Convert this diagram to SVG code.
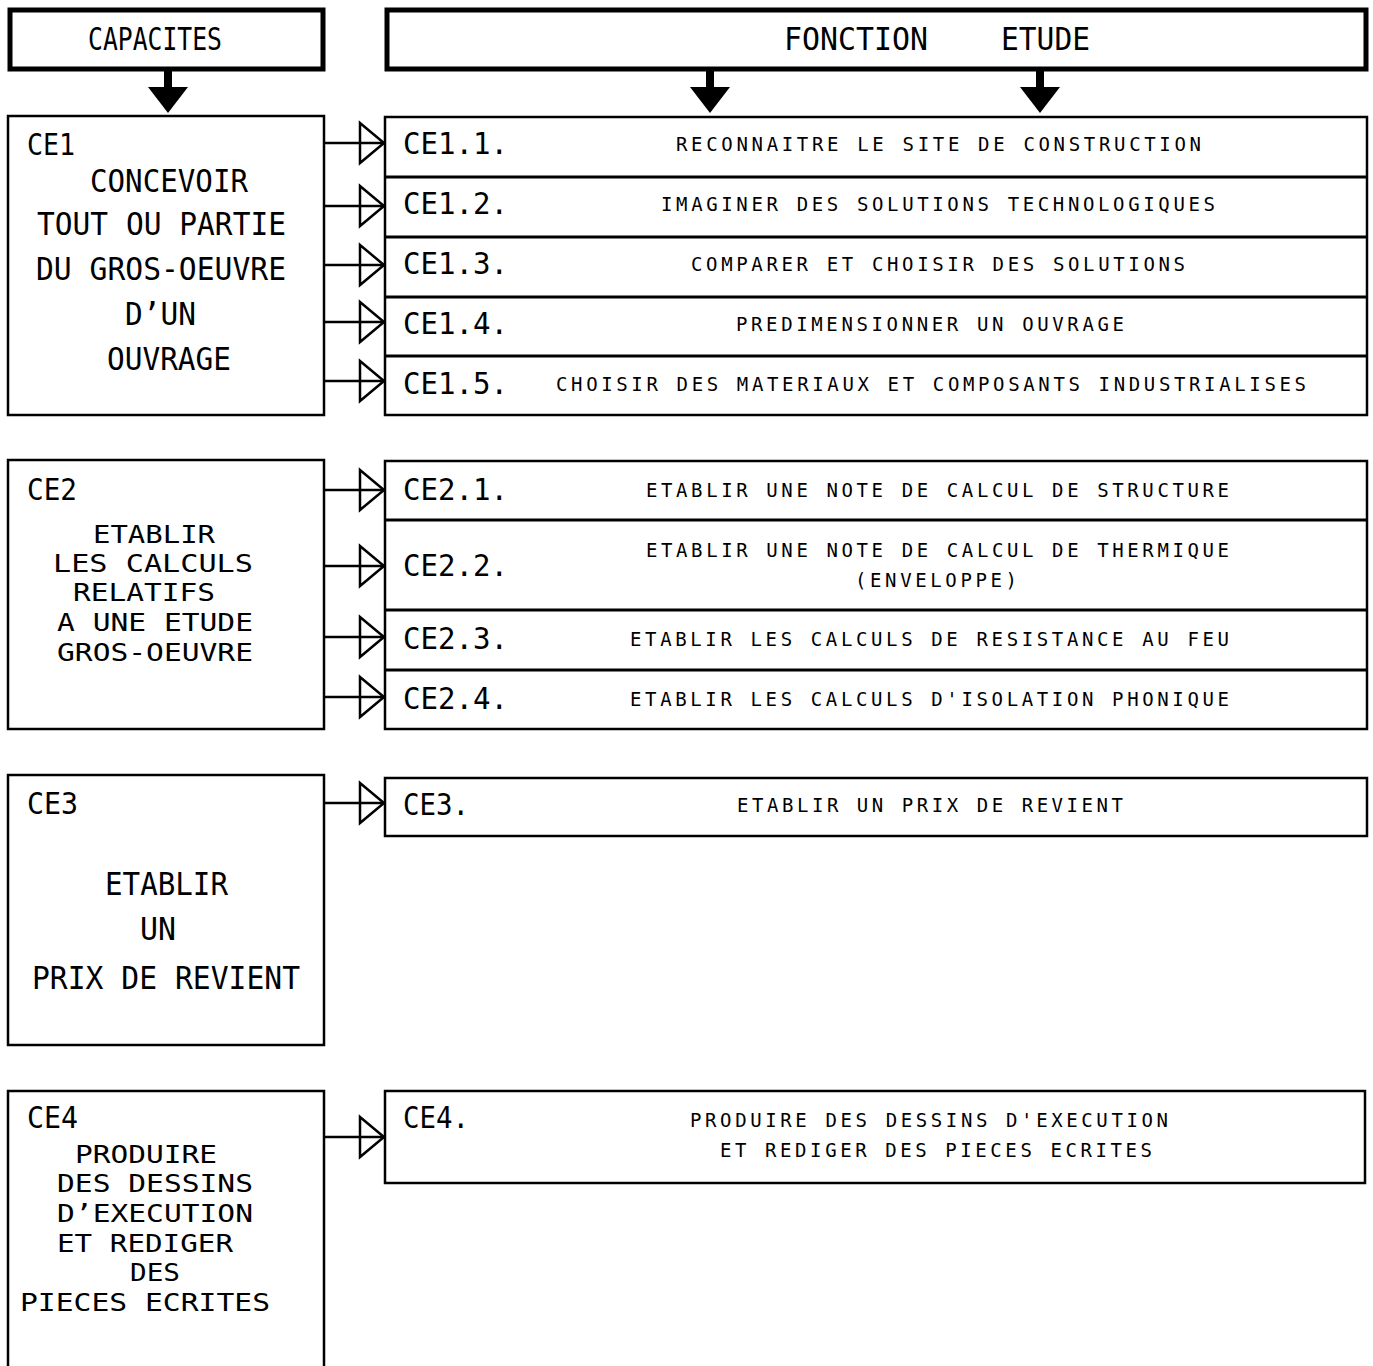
<svg xmlns="http://www.w3.org/2000/svg" width="1373" height="1366" viewBox="0 0 1373 1366">
<style>
.bg{fill:#fff}
.hdr{fill:none;stroke:#000;stroke-width:5}
.box{fill:none;stroke:#000;stroke-width:2.5}
.sep{stroke:#000;stroke-width:3}
.t{font-family:"DejaVu Sans Mono","Liberation Mono",monospace;fill:#000}
.big{font-size:32px}
.tight{font-size:25px}
.id{font-size:30px}
.sm{font-size:19px}
</style>
<defs>
<g id="blockArrow"><rect x="-4" y="0" width="8" height="20" fill="#000"/><polygon points="-20,16 20,16 0,42" fill="#000"/></g>
<g id="openArrow"><line x1="0" y1="0" x2="59" y2="0" stroke="#000" stroke-width="2.5"/><polygon points="35,-20 59,0 35,20" fill="none" stroke="#000" stroke-width="2.5"/></g>
</defs>
<rect class="bg" x="0" y="0" width="1373" height="1366"/>

<g id="capacites">
<rect class="hdr" x="10" y="10" width="313" height="59"/>
<text class="t" x="88" y="50" font-size="32" textLength="134" lengthAdjust="spacingAndGlyphs">CAPACITES</text>
</g>
<g id="fonction-etude">
<rect class="hdr" x="387" y="10" width="979" height="59"/>
<text class="t" x="784" y="50" font-size="32" textLength="144" lengthAdjust="spacingAndGlyphs">FONCTION</text>
<text class="t" x="1001" y="50" font-size="32" textLength="89" lengthAdjust="spacingAndGlyphs">ETUDE</text>
</g>

<g id="ce1">
<rect class="box" x="8" y="116" width="316" height="299"/>
<text class="t id" x="27" y="155" textLength="48" lengthAdjust="spacingAndGlyphs">CE1</text>
<text class="t big" x="90" y="192" textLength="158" lengthAdjust="spacingAndGlyphs">CONCEVOIR</text>
<text class="t big" x="37" y="235" textLength="249" lengthAdjust="spacingAndGlyphs">TOUT OU PARTIE</text>
<text class="t big" x="36" y="280" textLength="250" lengthAdjust="spacingAndGlyphs">DU GROS-OEUVRE</text>
<text class="t big" x="125" y="325" textLength="71" lengthAdjust="spacingAndGlyphs">D’UN</text>
<text class="t big" x="107" y="370" textLength="124" lengthAdjust="spacingAndGlyphs">OUVRAGE</text>
</g>
<g id="ce1-rows">
<rect class="box" x="385" y="117" width="982" height="298"/>
<line class="sep" x1="385" y1="177" x2="1367" y2="177"/>
<line class="sep" x1="385" y1="237" x2="1367" y2="237"/>
<line class="sep" x1="385" y1="297" x2="1367" y2="297"/>
<line class="sep" x1="385" y1="356" x2="1367" y2="356"/>
<text class="t id" x="403" y="154" textLength="105" lengthAdjust="spacingAndGlyphs">CE1.1.</text>
<text class="t id" x="403" y="214" textLength="105" lengthAdjust="spacingAndGlyphs">CE1.2.</text>
<text class="t id" x="403" y="274" textLength="105" lengthAdjust="spacingAndGlyphs">CE1.3.</text>
<text class="t id" x="403" y="334" textLength="105" lengthAdjust="spacingAndGlyphs">CE1.4.</text>
<text class="t id" x="403" y="394" textLength="105" lengthAdjust="spacingAndGlyphs">CE1.5.</text>
<text class="t sm" x="676" y="151" textLength="525" lengthAdjust="spacing">RECONNAITRE LE SITE DE CONSTRUCTION</text>
<text class="t sm" x="661" y="211" textLength="554" lengthAdjust="spacing">IMAGINER DES SOLUTIONS TECHNOLOGIQUES</text>
<text class="t sm" x="691" y="271" textLength="494" lengthAdjust="spacing">COMPARER ET CHOISIR DES SOLUTIONS</text>
<text class="t sm" x="736" y="331" textLength="388" lengthAdjust="spacing">PREDIMENSIONNER UN OUVRAGE</text>
<text class="t sm" x="556" y="391" textLength="750" lengthAdjust="spacing">CHOISIR DES MATERIAUX ET COMPOSANTS INDUSTRIALISES</text>
</g>

<g id="ce2">
<rect class="box" x="8" y="460" width="316" height="269"/>
<text class="t id" x="27" y="500" textLength="50" lengthAdjust="spacingAndGlyphs">CE2</text>
<text class="t tight" x="93" y="543" textLength="122" lengthAdjust="spacingAndGlyphs">ETABLIR</text>
<text class="t tight" x="53" y="572" textLength="200" lengthAdjust="spacingAndGlyphs">LES CALCULS</text>
<text class="t tight" x="73" y="601" textLength="142" lengthAdjust="spacingAndGlyphs">RELATIFS</text>
<text class="t tight" x="57" y="631" textLength="196" lengthAdjust="spacingAndGlyphs">A UNE ETUDE</text>
<text class="t tight" x="57" y="661" textLength="196" lengthAdjust="spacingAndGlyphs">GROS-OEUVRE</text>
</g>
<g id="ce2-rows">
<rect class="box" x="385" y="461" width="982" height="268"/>
<line class="sep" x1="385" y1="520" x2="1367" y2="520"/>
<line class="sep" x1="385" y1="610" x2="1367" y2="610"/>
<line class="sep" x1="385" y1="670" x2="1367" y2="670"/>
<text class="t id" x="403" y="500" textLength="105" lengthAdjust="spacingAndGlyphs">CE2.1.</text>
<text class="t id" x="403" y="576" textLength="105" lengthAdjust="spacingAndGlyphs">CE2.2.</text>
<text class="t id" x="403" y="649" textLength="105" lengthAdjust="spacingAndGlyphs">CE2.3.</text>
<text class="t id" x="403" y="709" textLength="105" lengthAdjust="spacingAndGlyphs">CE2.4.</text>
<text class="t sm" x="646" y="497" textLength="583" lengthAdjust="spacing">ETABLIR UNE NOTE DE CALCUL DE STRUCTURE</text>
<text class="t sm" x="646" y="557" textLength="583" lengthAdjust="spacing">ETABLIR UNE NOTE DE CALCUL DE THERMIQUE</text>
<text class="t sm" x="855" y="587" textLength="162" lengthAdjust="spacing">(ENVELOPPE)</text>
<text class="t sm" x="630" y="646" textLength="599" lengthAdjust="spacing">ETABLIR LES CALCULS DE RESISTANCE AU FEU</text>
<text class="t sm" x="630" y="706" textLength="599" lengthAdjust="spacing">ETABLIR LES CALCULS D'ISOLATION PHONIQUE</text>
</g>

<g id="ce3">
<rect class="box" x="8" y="775" width="316" height="270"/>
<text class="t id" x="27" y="814" textLength="51" lengthAdjust="spacingAndGlyphs">CE3</text>
<text class="t big" x="105" y="895" textLength="123" lengthAdjust="spacingAndGlyphs">ETABLIR</text>
<text class="t big" x="140" y="940" textLength="36" lengthAdjust="spacingAndGlyphs">UN</text>
<text class="t big" x="32" y="989" textLength="268" lengthAdjust="spacingAndGlyphs">PRIX DE REVIENT</text>
</g>
<g id="ce3-row">
<rect class="box" x="385" y="778" width="982" height="58"/>
<text class="t id" x="403" y="815" textLength="66" lengthAdjust="spacingAndGlyphs">CE3.</text>
<text class="t sm" x="737" y="812" textLength="386" lengthAdjust="spacing">ETABLIR UN PRIX DE REVIENT</text>
</g>

<g id="ce4">
<path d="M8,1366 V1091 H324 V1366" fill="none" stroke="#000" stroke-width="2.5"/>
<text class="t id" x="27" y="1128" textLength="51" lengthAdjust="spacingAndGlyphs">CE4</text>
<text class="t tight" x="75" y="1163" textLength="142" lengthAdjust="spacingAndGlyphs">PRODUIRE</text>
<text class="t tight" x="57" y="1192" textLength="196" lengthAdjust="spacingAndGlyphs">DES DESSINS</text>
<text class="t tight" x="57" y="1222" textLength="196" lengthAdjust="spacingAndGlyphs">D’EXECUTION</text>
<text class="t tight" x="57" y="1252" textLength="176" lengthAdjust="spacingAndGlyphs">ET REDIGER</text>
<text class="t tight" x="130" y="1281" textLength="50" lengthAdjust="spacingAndGlyphs">DES</text>
<text class="t tight" x="20" y="1311" textLength="250" lengthAdjust="spacingAndGlyphs">PIECES ECRITES</text>
</g>
<g id="ce4-row">
<rect class="box" x="385" y="1091" width="980" height="92"/>
<text class="t id" x="403" y="1128" textLength="66" lengthAdjust="spacingAndGlyphs">CE4.</text>
<text class="t sm" x="690" y="1127" textLength="478" lengthAdjust="spacing">PRODUIRE DES DESSINS D'EXECUTION</text>
<text class="t sm" x="720" y="1157" textLength="432" lengthAdjust="spacing">ET REDIGER DES PIECES ECRITES</text>
</g>

<g id="connectors">
<use href="#blockArrow" x="168" y="71"/>
<use href="#blockArrow" x="710" y="71"/>
<use href="#blockArrow" x="1040" y="71"/>
<use href="#openArrow" x="325" y="143"/>
<use href="#openArrow" x="325" y="206"/>
<use href="#openArrow" x="325" y="265"/>
<use href="#openArrow" x="325" y="322"/>
<use href="#openArrow" x="325" y="381"/>
<use href="#openArrow" x="325" y="490"/>
<use href="#openArrow" x="325" y="566"/>
<use href="#openArrow" x="325" y="637"/>
<use href="#openArrow" x="325" y="697"/>
<use href="#openArrow" x="325" y="803"/>
<use href="#openArrow" x="325" y="1137"/>
</g>
</svg>
